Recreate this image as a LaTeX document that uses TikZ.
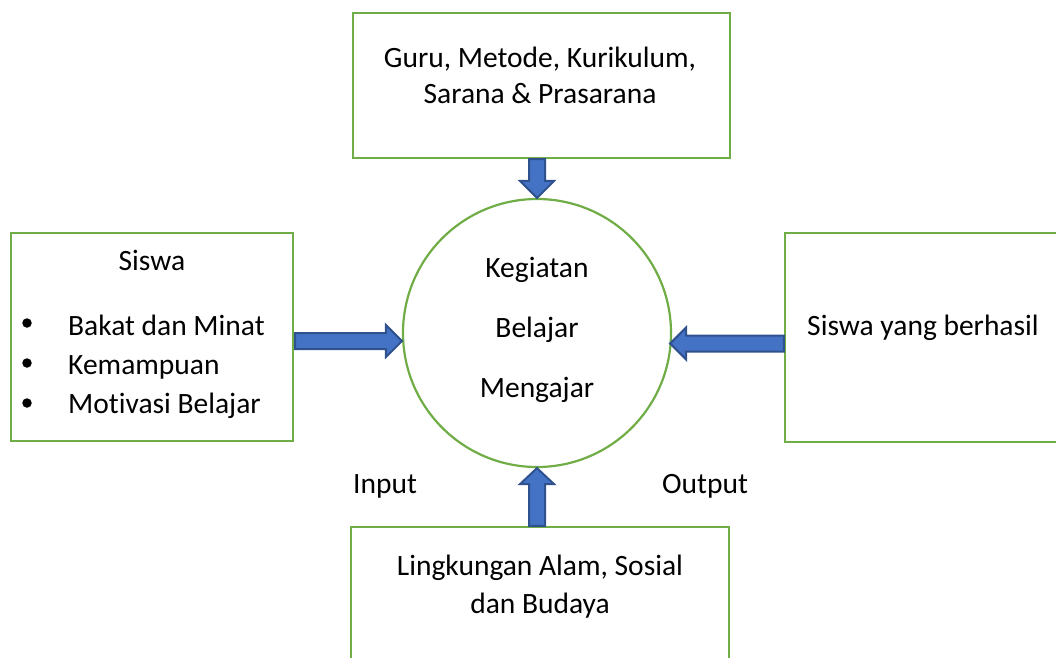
\documentclass[tikz,border=0pt]{standalone}
\usepackage{fontspec}
\setmainfont{Carlito}[Ligatures=NoCommon]
\usetikzlibrary{calc}
\definecolor{boxgreen}{HTML}{70AD47}
\definecolor{arrowblue}{HTML}{4472C4}
\definecolor{arrowedge}{HTML}{2F528F}
\begin{document}
\begin{tikzpicture}[x=1pt,y=1pt,
  box/.style={draw=boxgreen, line width=2.2pt, fill=white, inner sep=0pt},
  txt/.style={font=\fontsize{29.5}{38}\selectfont, inner sep=0pt},
  bullet/.style={circle, fill=black, inner sep=0pt, minimum size=9.5pt},
  blockarrow/.style={draw=arrowedge, fill=arrowblue, line width=2pt, line join=miter}]
\useasboundingbox (0,0) rectangle (1056,-657);
\clip (0,0) rectangle (1056,-657);
% boxes
\node[box, minimum width=377, minimum height=145] (top) at (541.5,-85.5) {};
\node[box, minimum width=282, minimum height=208] (left) at (152,-337) {};
\node[box, minimum width=290, minimum height=209] (right) at (930,-337.5) {};
\node[box, minimum width=378, minimum height=160] (bottom) at (540,-607) {};
\node[draw=boxgreen, line width=2.2pt, circle, minimum size=268, inner sep=0pt] (circ) at (537,-333) {};
% texts
\node[txt, anchor=base] (t1) at (540,-67) {Guru, Metode, Kurikulum,};
\node[txt, anchor=base] (t2) at (540,-103) {Sarana \& Prasarana};
\node[txt, anchor=base] (siswa) at (152,-270) {Siswa};
\node[txt, anchor=base west] (i1) at (68,-335) {Bakat dan Minat};
\node[txt, anchor=base west] (i2) at (68,-374) {Kemampuan};
\node[txt, anchor=base west] (i3) at (68,-413) {Motivasi Belajar};
\node[bullet] (b1) at (27,-323) {};
\node[bullet] (b2) at (27,-363) {};
\node[bullet] (b3) at (27,-403) {};
\node[txt, anchor=base] (c1) at (537,-277) {Kegiatan};
\node[txt, anchor=base] (c2) at (537,-337) {Belajar};
\node[txt, anchor=base] (c3) at (537,-397) {Mengajar};
\node[txt, anchor=base west] (r1) at (807,-335) {Siswa yang berhasil};
\node[txt, anchor=base] (l1) at (540,-575) {Lingkungan Alam, Sosial};
\node[txt, anchor=base] (l2) at (540,-613) {dan Budaya};
\node[txt, anchor=base west] (inp) at (353,-493) {Input};
\node[txt, anchor=base west] (outp) at (662,-493) {Output};
% block arrows
\coordinate (tS) at (circ.north |- top.south);
\coordinate (tE) at (circ.north);
\draw[blockarrow] ($(tS)+(-8,0)$) -- ($(tE)+(-8,17)$) -- ($(tE)+(-17,17)$) -- (tE)
  -- ($(tE)+(17,17)$) -- ($(tE)+(8,17)$) -- ($(tS)+(8,0)$) -- cycle;
\coordinate (lS) at ($(left.east)+(1,-4)$);
\coordinate (lE) at (circ.west |- lS);
\draw[blockarrow] ($(lS)+(0,8)$) -- ($(lE)+(-16,8)$) -- ($(lE)+(-16,16)$) -- (lE)
  -- ($(lE)+(-16,-16)$) -- ($(lE)+(-16,-8)$) -- ($(lS)+(0,-8)$) -- cycle;
\coordinate (rS) at ($(right.west)+(0,-6)$);
\coordinate (rE) at ($(circ.east |- rS)+(-2,0)$);
\draw[blockarrow] ($(rS)+(0,8)$) -- ($(rE)+(16,8)$) -- ($(rE)+(16,16)$) -- (rE)
  -- ($(rE)+(16,-16)$) -- ($(rE)+(16,-8)$) -- ($(rS)+(0,-8)$) -- cycle;
\coordinate (bS) at (circ.south |- bottom.north);
\coordinate (bE) at (circ.south);
\draw[blockarrow] ($(bS)+(-8,0)$) -- ($(bE)+(-8,-16)$) -- ($(bE)+(-17,-16)$) -- (bE)
  -- ($(bE)+(17,-16)$) -- ($(bE)+(8,-16)$) -- ($(bS)+(8,0)$) -- cycle;
\end{tikzpicture}
\end{document}
